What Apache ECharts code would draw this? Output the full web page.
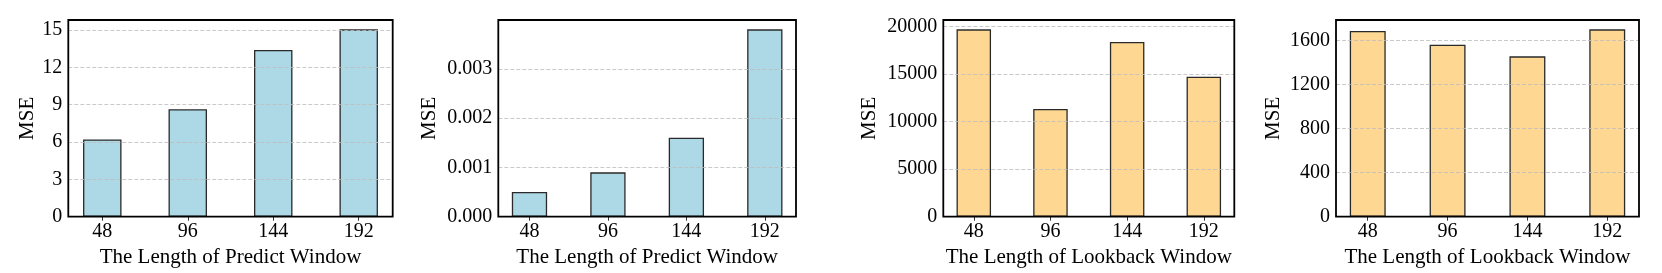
<!DOCTYPE html>
<html>
<head>
<meta charset="utf-8">
<script src="https://cdn.jsdelivr.net/npm/echarts@6/dist/echarts.min.js"></script>
<style>
html,body{margin:0;padding:0;background:#fff;}
#c{width:1662px;height:273px;}
</style>
</head>
<body>
<div id="c"></div>
<script>
// ---- data ----
const categories = ['48', '96', '144', '192'];
const predictMse1 = [6.21, 8.63, 13.39, 15.05];
const predictMse2 = [0.0005, 0.0009, 0.0016, 0.0038];
const lookbackMse1 = [19700, 11330, 18380, 14720];
const lookbackMse2 = [1685, 1561, 1455, 1700];
const yTickStep1 = 3;
const yTickStep2 = 0.001;
const yTickStep3 = 5000;
const yTickStep4 = 400;
const xName1 = 'The Length of Predict Window';
const xName2 = 'The Length of Lookback Window';
const yName = 'MSE';

const FONT = '"Liberation Serif", "DejaVu Serif", serif';
const blue = '#ADD8E6';
const orange = '#FED892';

const panels = [
  {values: predictMse1, step: yTickStep1, xName: xName1, color: blue, fmt: v => String(v), left: 68.3, width: 324.4, nameGap: 29},
  {values: predictMse2, step: yTickStep2, xName: xName1, color: blue, fmt: v => v.toFixed(3), left: 498.3, width: 297.7, nameGap: 58},
  {values: lookbackMse1, step: yTickStep3, xName: xName2, color: orange, fmt: v => String(v), left: 943.3, width: 291, nameGap: 63},
  {values: lookbackMse2, step: yTickStep4, xName: xName2, color: orange, fmt: v => String(v), left: 1336, width: 303, nameGap: 52}
];

const n = categories.length;
const half = 0.45 / 2;
const span = (n - 1) + 2 * half;
const xMin = -half - 0.05 * span;
const xMax = (n - 1) + half + 0.05 * span;

const grids = [], xAxes = [], yAxes = [], series = [];
panels.forEach((p, i) => {
  const maxV = Math.max(...p.values);
  grids.push({left: p.left, top: 20, width: p.width, height: 196.7, show: true, z: 10,
    borderColor: '#000', borderWidth: 1.8, backgroundColor: 'transparent'});
  xAxes.push({
    type: 'value', gridIndex: i, min: xMin, max: xMax,
    name: p.xName, nameLocation: 'middle', nameGap: 23,
    nameTextStyle: {fontFamily: FONT, fontSize: 21, color: '#000'},
    axisLine: {show: false},
    splitLine: {show: false},
    axisTick: {show: true, length: 4, lineStyle: {color: '#333', width: 1}, customValues: categories.map((c, k) => k)},
    axisLabel: {fontFamily: FONT, fontSize: 20, color: '#000', margin: 5,
      customValues: categories.map((c, k) => k),
      formatter: v => categories[Math.round(v)]}
  });
  yAxes.push({
    type: 'value', gridIndex: i, min: 0, max: maxV * 1.05, interval: p.step, z: 5,
    name: yName, nameLocation: 'middle', nameGap: p.nameGap, nameRotate: 90,
    nameTextStyle: {fontFamily: FONT, fontSize: 21, color: '#000'},
    axisLine: {show: false},
    axisTick: {show: false},
    axisLabel: {fontFamily: FONT, fontSize: 20, color: '#000', margin: 6,
      showMaxLabel: false, formatter: v => p.fmt(v)},
    splitLine: {show: true, lineStyle: {color: '#bdbdbd', type: [4, 2], width: 0.8}}
  });
  series.push({
    type: 'bar', xAxisIndex: i, yAxisIndex: i, barWidth: '45%',
    data: p.values.map((v, k) => [k, v]),
    itemStyle: {color: p.color, borderColor: '#2a2a2a', borderWidth: 1.3},
    emphasis: {disabled: true}, animation: false
  });
});

const chart = echarts.init(document.getElementById('c'), null, {renderer: 'canvas'});
chart.setOption({animation: false, grid: grids, xAxis: xAxes, yAxis: yAxes, series: series});
</script>
</body>
</html>
